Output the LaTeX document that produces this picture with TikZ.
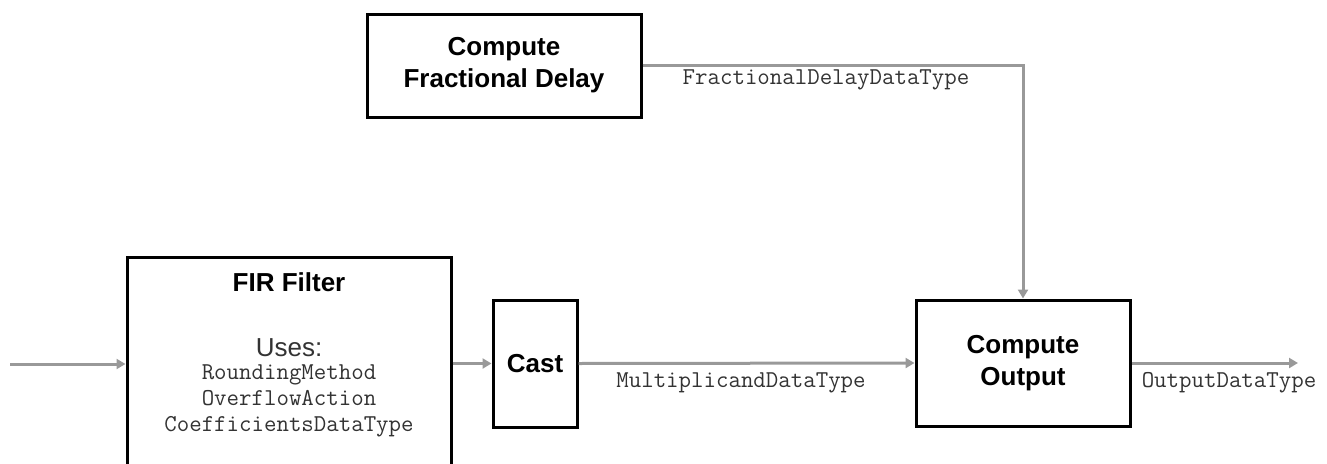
\documentclass[tikz,border=0pt]{standalone}
\usepackage{fontspec}
\setsansfont{Liberation Sans}
\usetikzlibrary{arrows.meta}

\begin{document}
\begin{tikzpicture}[x=1pt,y=-1pt,
    block/.style={draw=black,line width=3pt,fill=white,inner sep=0pt,align=center,
      font=\sffamily\bfseries\fontsize{26}{32}\selectfont},
    flow/.style={draw=black!40,line width=3pt,-{Triangle[length=9pt,width=10pt]}},
    dtype/.style={inner sep=0pt,text=black!80,align=center,
      font=\ttfamily\fontsize{24.2}{26}\selectfont}]
\useasboundingbox (0,0) rectangle (1327,463);
\node[block,minimum width=274pt,minimum height=103pt] (frac) at (504,65.5) {Compute\\Fractional Delay};
\node[block,minimum width=324pt,minimum height=260pt] (fir) at (289,387) {};
\node[block,draw=none,fill=none] (firname) at (289,282) {FIR Filter};
\node[inner sep=0pt,text=black!80,font=\sffamily\fontsize{26}{32}\selectfont] (uses) at (289,348) {Uses:};
\node[dtype] (params) at (289,401) {RoundingMethod\\OverflowAction\\CoefficientsDataType};
\node[block,minimum width=84pt,minimum height=127pt] (cast) at (535,363.5) {Cast};
\node[block,minimum width=214pt,minimum height=126pt] (out) at (1023,363) {Compute\\Output};
\coordinate (in) at (10,364);
\coordinate (end) at (1298,363);
\draw[flow] (in) -- (in -| fir.west);
\draw[flow] (fir.east |- cast.west) -- (cast.west);
\draw[flow] (cast.east) -- (out.west);
\draw[flow] (out.east) -- (end);
\draw[flow] (frac.east) -- (frac.east -| out.north) -- (out.north);
\node[dtype] (fdt) at (826,80) {FractionalDelayDataType};
\node[dtype] (mdt) at (741,383) {MultiplicandDataType};
\node[dtype] (odt) at (1229,383) {OutputDataType};
\end{tikzpicture}
\end{document}
